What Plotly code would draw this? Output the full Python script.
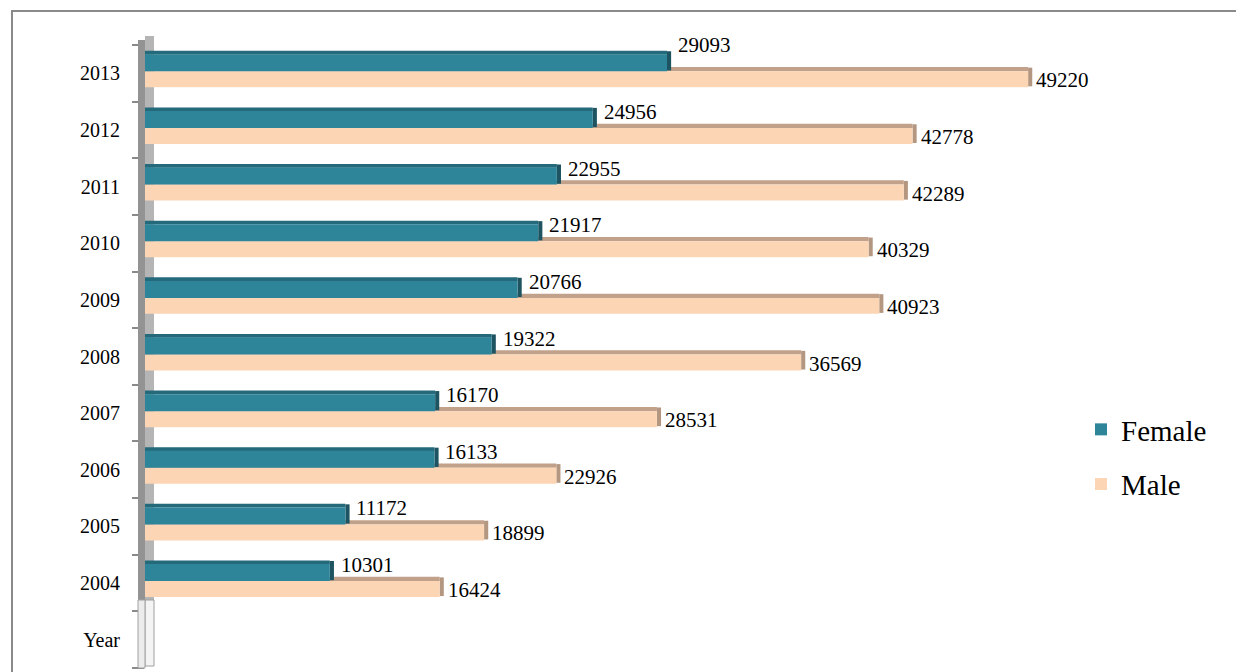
import plotly.graph_objects as go

years = ["2004", "2005", "2006", "2007", "2008", "2009", "2010", "2011", "2012", "2013"]
female = [10301, 11172, 16133, 16170, 19322, 20766, 21917, 22955, 24956, 29093]
male = [16424, 18899, 22926, 28531, 36569, 40923, 40329, 42289, 42778, 49220]
categories = ["Year"] + years

FONT = "Times New Roman, Liberation Serif, serif"
F_MAIN, F_TOP, F_SIDE = "#2e8499", "#256a7b", "#1e5461"
M_MAIN, M_TOP, M_SIDE = "#fcd5b5", "#c2a18a", "#b39780"
DEPTH = 230

fig = go.Figure()
# male top face (partly hidden behind female bar)
fig.add_trace(go.Bar(y=years, x=male, orientation="h", offset=0.035, width=0.075,
                     marker=dict(color=M_TOP, line=dict(width=0)), showlegend=False, hoverinfo="skip"))
# male side face
fig.add_trace(go.Bar(y=years, x=[DEPTH] * len(years), base=male, orientation="h", offset=-0.23, width=0.33,
                     marker=dict(color=M_SIDE, line=dict(width=0)), showlegend=False, hoverinfo="skip"))
# male main
fig.add_trace(go.Bar(y=years, x=male, orientation="h", offset=-0.247, width=0.282, name="Male",
                     marker=dict(color=M_MAIN, line=dict(width=0)), legendgroup="m", legendrank=2))
# female top face
fig.add_trace(go.Bar(y=years, x=female, orientation="h", offset=0.333, width=0.065,
                     marker=dict(color=F_TOP, line=dict(width=0)), showlegend=False, hoverinfo="skip"))
# female side face
fig.add_trace(go.Bar(y=years, x=[DEPTH] * len(years), base=female, orientation="h", offset=0.05, width=0.34,
                     marker=dict(color=F_SIDE, line=dict(width=0)), showlegend=False, hoverinfo="skip"))
# female main
fig.add_trace(go.Bar(y=years, x=female, orientation="h", offset=0.035, width=0.30, name="Female",
                     marker=dict(color=F_MAIN, line=dict(width=0)), legendgroup="f", legendrank=1))

annotations = []
for y, fv, mv in zip(years, female, male):
    idx = categories.index(y)
    # the topmost female label sits a little higher in the original
    f_shift = 28 if y == years[-1] else 18
    annotations.append(dict(x=fv, y=idx, xref="x", yref="y", text=str(fv), showarrow=False,
                            xanchor="left", yanchor="middle", xshift=9, yshift=f_shift,
                            font=dict(family=FONT, size=21, color="black")))
    annotations.append(dict(x=mv, y=idx, xref="x", yref="y", text=str(mv), showarrow=False,
                            xanchor="left", yanchor="middle", xshift=6, yshift=-7,
                            font=dict(family=FONT, size=21, color="black")))

PW = 1236 - 145 - 158
PH = 672 - 45 - 4

def px_x(p):
    return (p - 145) / PW

def px_y(p):
    return (668 - p) / PH

shapes = [
    # chart border
    dict(type="rect", xref="paper", yref="paper", x0=px_x(12), x1=1.5, y0=-0.5, y1=px_y(11),
         line=dict(color="#8a8a8a", width=2), fillcolor="rgba(0,0,0,0)", layer="below"),
    # wall: right part (under bars)
    dict(type="rect", xref="paper", yref="paper", x0=px_x(145), x1=px_x(154), y0=px_y(600), y1=px_y(36),
         line=dict(width=0), fillcolor="#b5b5b5", layer="below"),
    dict(type="rect", xref="paper", yref="paper", x0=px_x(145), x1=px_x(154), y0=px_y(666), y1=px_y(600),
         line=dict(color="#a0a0a0", width=1), fillcolor="#f4f4f4", layer="below"),
    # wall: left part (over tick roots)
    dict(type="rect", xref="paper", yref="paper", x0=px_x(138), x1=px_x(145), y0=px_y(600), y1=px_y(40),
         line=dict(width=0), fillcolor="#939393", layer="above"),
    dict(type="rect", xref="paper", yref="paper", x0=px_x(138), x1=px_x(145), y0=px_y(668), y1=px_y(600),
         line=dict(color="#a0a0a0", width=1), fillcolor="#ececec", layer="above"),
]

fig.update_layout(
    width=1236, height=672,
    margin=dict(l=145, r=158, t=45, b=4),
    paper_bgcolor="white", plot_bgcolor="white",
    barmode="overlay",
    font=dict(family=FONT, color="black"),
    xaxis=dict(range=[0, 52000], showgrid=False, zeroline=False, showticklabels=False,
               showline=False, ticks=""),
    yaxis=dict(type="category", categoryorder="array", categoryarray=categories,
               range=[-0.5, len(categories) - 0.5], autorange=False,
               showgrid=False, zeroline=False, showline=False,
               ticks="outside", tickson="boundaries", ticklen=12, tickcolor="#8a8a8a", tickwidth=2,
               ticklabelstandoff=24, tickfont=dict(family=FONT, size=20, color="black")),
    legend=dict(x=px_x(1081), y=px_y(404), xanchor="left", yanchor="top",
                font=dict(family=FONT, size=29, color="black"),
                tracegroupgap=14, bgcolor="rgba(0,0,0,0)"),
    annotations=annotations,
    shapes=shapes,
)

fig.write_html("out.html")
